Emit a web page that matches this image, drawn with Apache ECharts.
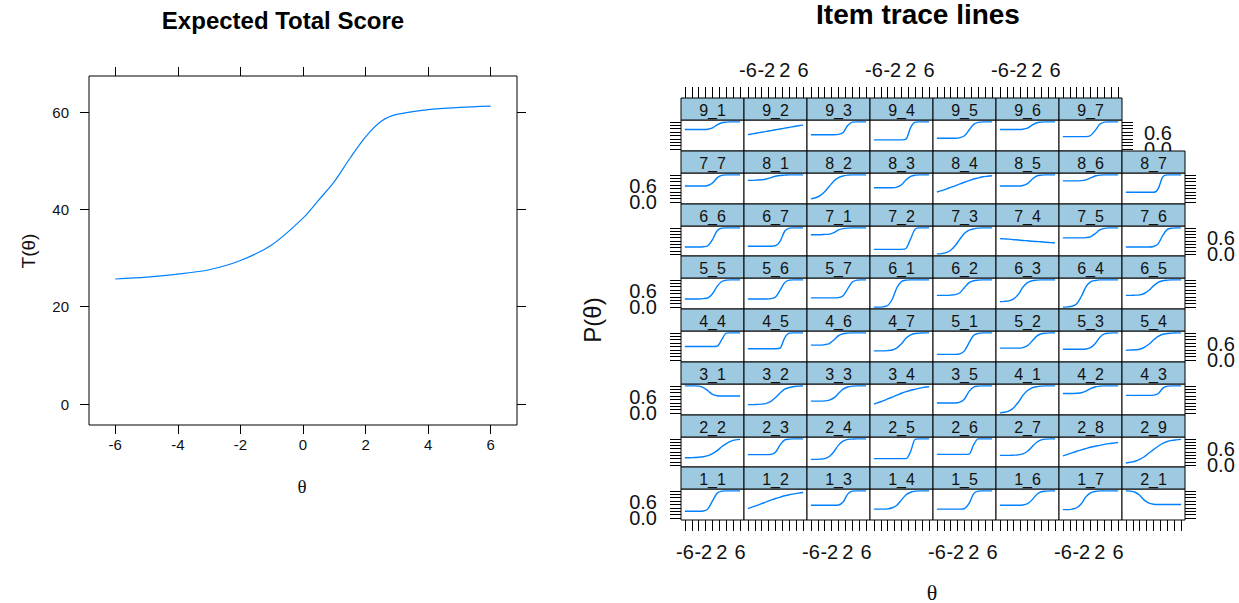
<!DOCTYPE html>
<html><head><meta charset="utf-8">
<script src="https://cdn.jsdelivr.net/npm/echarts@6/dist/echarts.min.js"></script>
<style>html,body{margin:0;padding:0;background:#fff}#c{width:1239px;height:603px}</style>
</head><body><div id="c"></div>
<script>
// ---------- data ----------
const totalTheta = [-6,-5,-4,-3,-2,-1,0,0.5,1,1.5,2,2.5,3,4,5,6];
const totalScore = [25.7,26.1,26.7,27.6,29.5,32.7,38.2,41.9,45.7,50.5,54.9,58.1,59.5,60.5,60.95,61.2];
const theta = [-6,-5,-4,-3,-2,-1,0,1,2,3,4,5,6];
const itemNames = ['1_1','1_2','1_3','1_4','1_5','1_6','1_7','2_1',
  '2_2','2_3','2_4','2_5','2_6','2_7','2_8','2_9',
  '3_1','3_2','3_3','3_4','3_5','4_1','4_2','4_3',
  '4_4','4_5','4_6','4_7','5_1','5_2','5_3','5_4',
  '5_5','5_6','5_7','6_1','6_2','6_3','6_4','6_5',
  '6_6','6_7','7_1','7_2','7_3','7_4','7_5','7_6',
  '7_7','8_1','8_2','8_3','8_4','8_5','8_6','8_7',
  '9_1','9_2','9_3','9_4','9_5','9_6','9_7'];
const p1_1 = [0.25,0.25,0.25,0.25,0.26,0.34,0.63,0.91,0.99,1,1,1,1];
const p1_2 = [0.35,0.41,0.47,0.53,0.60,0.66,0.72,0.77,0.82,0.86,0.89,0.92,0.94];
const p1_3 = [0.47,0.47,0.47,0.47,0.47,0.47,0.48,0.59,0.88,0.99,1,1,1];
const p1_4 = [0.33,0.33,0.33,0.34,0.38,0.47,0.67,0.86,0.95,0.99,1,1,1];
const p1_5 = [0.33,0.33,0.33,0.33,0.33,0.33,0.35,0.54,0.90,0.99,1,1,1];
const p1_6 = [0.47,0.47,0.47,0.47,0.47,0.48,0.53,0.67,0.87,0.97,0.99,1,1];
const p1_7 = [0.31,0.31,0.33,0.38,0.53,0.78,0.93,0.98,1,1,1,1,1];
const p2_1 = [1.0,0.99,0.95,0.84,0.66,0.55,0.51,0.50,0.50,0.50,0.50,0.50,0.50];
const p2_2 = [0.28,0.28,0.29,0.30,0.32,0.36,0.44,0.55,0.70,0.82,0.91,0.96,0.98];
const p2_3 = [0.40,0.40,0.40,0.40,0.40,0.41,0.49,0.77,0.96,0.99,1,1,1];
const p2_4 = [0.22,0.22,0.23,0.25,0.33,0.51,0.76,0.91,0.98,0.99,1,1,1];
const p2_5 = [0.25,0.25,0.25,0.25,0.25,0.25,0.25,0.25,0.53,0.99,1,1,1];
const p2_6 = [0.41,0.41,0.41,0.41,0.41,0.41,0.41,0.42,0.78,1,1,1,1];
const p2_7 = [0.37,0.37,0.37,0.38,0.39,0.43,0.53,0.70,0.87,0.96,0.99,1,1];
const p2_8 = [0.35,0.41,0.47,0.53,0.58,0.63,0.68,0.72,0.75,0.79,0.82,0.84,0.86];
const p2_9 = [0.08,0.11,0.15,0.22,0.32,0.46,0.59,0.72,0.83,0.90,0.94,0.96,0.98];
const p3_1 = [1.0,1.0,1.0,0.99,0.94,0.82,0.69,0.64,0.63,0.63,0.63,0.63,0.63];
const p3_2 = [0.31,0.31,0.32,0.33,0.36,0.43,0.57,0.74,0.88,0.94,0.98,0.99,1];
const p3_3 = [0.44,0.44,0.44,0.45,0.48,0.56,0.72,0.88,0.96,0.99,1,1,1];
const p3_4 = [0.33,0.39,0.45,0.52,0.59,0.66,0.73,0.79,0.84,0.88,0.92,0.95,0.97];
const p3_5 = [0.37,0.37,0.37,0.37,0.37,0.40,0.52,0.80,0.96,0.99,1,1,1];
const p4_1 = [0.01,0.03,0.08,0.20,0.40,0.65,0.83,0.93,0.97,0.99,1,1,1];
const p4_2 = [0.72,0.72,0.72,0.73,0.75,0.81,0.90,0.96,0.99,1,1,1,1];
const p4_3 = [0.65,0.65,0.65,0.65,0.65,0.65,0.66,0.71,0.91,0.99,1,1,1];
const p4_4 = [0.50,0.50,0.50,0.50,0.50,0.50,0.50,0.51,0.75,0.99,1,1,1];
const p4_5 = [0.42,0.42,0.42,0.42,0.42,0.42,0.42,0.44,0.82,0.99,1,1,1];
const p4_6 = [0.55,0.55,0.55,0.57,0.61,0.74,0.90,0.97,0.99,1,1,1,1];
const p4_7 = [0.34,0.34,0.34,0.35,0.37,0.45,0.60,0.81,0.93,0.98,0.99,1,1];
const p5_1 = [0.21,0.21,0.21,0.21,0.21,0.23,0.34,0.64,0.91,0.98,1,1,1];
const p5_2 = [0.44,0.44,0.44,0.44,0.44,0.46,0.53,0.70,0.88,0.97,0.99,1,1];
const p5_3 = [0.40,0.40,0.40,0.40,0.40,0.41,0.46,0.60,0.83,0.96,0.99,1,1];
const p5_4 = [0.36,0.37,0.38,0.40,0.47,0.58,0.74,0.87,0.95,0.98,0.99,1,1];
const p5_5 = [0.30,0.30,0.30,0.30,0.31,0.34,0.49,0.76,0.94,0.99,1,1,1];
const p5_6 = [0.30,0.30,0.30,0.30,0.30,0.31,0.37,0.62,0.90,0.99,1,1,1];
const p5_7 = [0.34,0.34,0.34,0.34,0.34,0.34,0.35,0.42,0.67,0.92,0.99,1,1];
const p6_1 = [0,0,0.01,0.06,0.29,0.71,0.94,0.99,1,1,1,1,1];
const p6_2 = [0.43,0.43,0.43,0.44,0.46,0.53,0.72,0.90,0.97,0.99,1,1,1];
const p6_3 = [0.20,0.21,0.23,0.30,0.47,0.73,0.90,0.97,0.99,1,1,1,1];
const p6_4 = [0,0.01,0.03,0.12,0.39,0.74,0.93,0.98,1,1,1,1,1];
const p6_5 = [0.43,0.43,0.44,0.45,0.50,0.62,0.78,0.91,0.97,0.99,1,1,1];
const p6_6 = [0.27,0.27,0.27,0.27,0.28,0.32,0.55,0.89,0.99,1,1,1,1];
const p6_7 = [0.30,0.30,0.30,0.30,0.30,0.30,0.32,0.49,0.87,0.99,1,1,1];
const p7_1 = [0.74,0.74,0.74,0.75,0.76,0.82,0.92,0.97,0.99,1,1,1,1];
const p7_2 = [0.18,0.18,0.18,0.18,0.18,0.18,0.18,0.22,0.59,0.96,1,1,1];
const p7_3 = [0.01,0.02,0.06,0.15,0.33,0.57,0.79,0.91,0.96,0.99,1,1,1];
const p7_4 = [0.59,0.58,0.57,0.55,0.54,0.52,0.51,0.49,0.48,0.47,0.45,0.44,0.43];
const p7_5 = [0.62,0.62,0.62,0.62,0.62,0.63,0.66,0.78,0.92,0.98,1,1,1];
const p7_6 = [0.27,0.27,0.27,0.27,0.27,0.27,0.29,0.39,0.71,0.94,0.99,1,1];
const p7_7 = [0.59,0.59,0.59,0.59,0.59,0.61,0.70,0.89,0.98,1,1,1,1];
const p8_1 = [0.80,0.80,0.81,0.82,0.85,0.90,0.95,0.98,0.99,1,1,1,1];
const p8_2 = [0.12,0.16,0.24,0.38,0.58,0.78,0.90,0.96,0.99,1,1,1,1];
const p8_3 = [0.53,0.53,0.53,0.53,0.53,0.55,0.64,0.82,0.95,0.99,1,1,1];
const p8_4 = [0.37,0.42,0.48,0.54,0.60,0.67,0.73,0.79,0.85,0.89,0.93,0.95,0.97];
const p8_5 = [0.59,0.59,0.59,0.59,0.59,0.61,0.68,0.84,0.96,0.99,1,1,1];
const p8_6 = [0.78,0.78,0.78,0.78,0.79,0.82,0.89,0.96,0.99,1,1,1,1];
const p8_7 = [0.36,0.36,0.36,0.36,0.36,0.36,0.36,0.49,0.93,1,1,1,1];
const p9_1 = [0.72,0.72,0.72,0.72,0.72,0.73,0.78,0.89,0.97,0.99,1,1,1];
const p9_2 = [0.53,0.56,0.59,0.62,0.65,0.68,0.71,0.74,0.77,0.80,0.83,0.86,0.88];
const p9_3 = [0.53,0.53,0.53,0.53,0.53,0.53,0.54,0.61,0.87,0.99,1,1,1];
const p9_4 = [0.34,0.34,0.34,0.34,0.34,0.34,0.34,0.37,0.80,0.99,1,1,1];
const p9_5 = [0.40,0.40,0.40,0.40,0.40,0.42,0.49,0.70,0.91,0.98,1,1,1];
const p9_6 = [0.72,0.72,0.72,0.72,0.72,0.73,0.77,0.88,0.97,0.99,1,1,1];
const p9_7 = [0.46,0.46,0.46,0.46,0.46,0.46,0.50,0.68,0.91,0.99,1,1,1];
const itemCurves = [p1_1,p1_2,p1_3,p1_4,p1_5,p1_6,p1_7,p2_1,
  p2_2,p2_3,p2_4,p2_5,p2_6,p2_7,p2_8,p2_9,
  p3_1,p3_2,p3_3,p3_4,p3_5,p4_1,p4_2,p4_3,
  p4_4,p4_5,p4_6,p4_7,p5_1,p5_2,p5_3,p5_4,
  p5_5,p5_6,p5_7,p6_1,p6_2,p6_3,p6_4,p6_5,
  p6_6,p6_7,p7_1,p7_2,p7_3,p7_4,p7_5,p7_6,
  p7_7,p8_1,p8_2,p8_3,p8_4,p8_5,p8_6,p8_7,
  p9_1,p9_2,p9_3,p9_4,p9_5,p9_6,p9_7];
const leftXTicks = [-6,-4,-2,0,2,4,6];
const leftYTicks = [0,20,40,60];
const panelXTicks = [-6,-4.5,-3,-1.5,0,1.5,3,4.5,6];
const panelXLabels = [-6,-2,2,6];
const panelYTicks = [0,0.125,0.25,0.375,0.5,0.625,0.75,0.875,1];
const panelYLabels = [0,0.6];

// ---------- layout ----------
const SANS = '"Liberation Sans", Arial, sans-serif';
const SERIF = '"Liberation Serif", "DejaVu Serif", serif';
const INK = '#111';
const LINE = '#0080ff';
const grids = [], xAxes = [], yAxes = [], series = [], graphics = [];

function axisBase(extra){
  return Object.assign({type:'value', splitLine:{show:false},
    axisLine:{show:false, onZero:false}}, extra);
}
function lab(extra){
  return Object.assign({hideOverlap:false, showMinLabel:true, showMaxLabel:true}, extra);
}

// left panel
grids.push({left:89, top:76, width:428, height:349, show:true, borderColor:'#000', borderWidth:1, backgroundColor:'#fff'});
const lTick = {show:true, length:9, customValues:leftXTicks, lineStyle:{color:'#000', width:1}};
xAxes.push(axisBase({gridIndex:0, position:'bottom', min:-6.84, max:6.84,
  axisTick:lTick,
  axisLabel:lab({customValues:leftXTicks, margin:12, fontSize:15, color:INK, fontFamily:SANS})}));
xAxes.push(axisBase({gridIndex:0, position:'top', min:-6.84, max:6.84,
  axisTick:lTick, axisLabel:{show:false}}));
const lyTick = {show:true, length:9, customValues:leftYTicks, lineStyle:{color:'#000', width:1}};
yAxes.push(axisBase({gridIndex:0, position:'left', min:-4.3, max:67.4,
  axisTick:lyTick,
  axisLabel:lab({customValues:leftYTicks, margin:20, fontSize:15, color:INK, fontFamily:SANS})}));
yAxes.push(axisBase({gridIndex:0, position:'right', min:-4.3, max:67.4,
  axisTick:lyTick, axisLabel:{show:false}}));
series.push({type:'line', xAxisIndex:0, yAxisIndex:0, showSymbol:false, smooth:0.3,
  lineStyle:{color:LINE, width:1.2}, data: totalTheta.map((t,i)=>[t,totalScore[i]])});

// right panel grid of items
const PX0 = 681, PW = 63, TOP0 = 98, RH = 52.75, SH = 22;
const pxTick = {show:true, length:11, customValues:panelXTicks, lineStyle:{color:'#000', width:1}};
const pyTick = {show:true, length:11, customValues:panelYTicks, lineStyle:{color:'#000', width:1}};
const pLabel = {fontSize:20, color:INK, fontFamily:SANS};
const pyLabel = {fontSize:20, lineHeight:14, color:INK, fontFamily:SANS};
const fmt1 = v => Number(v).toFixed(1);
// a y-axis side: ticks on one axis, each label on its own overlaid axis
function ySide(gi, pos, withLabels, margin){
  const idx = yAxes.length;
  yAxes.push(axisBase({gridIndex:gi, position:pos, min:-0.07, max:1.07,
    axisTick:pyTick,
    axisLabel:lab(Object.assign({show:withLabels, customValues:[panelYLabels[0]], margin:margin, formatter:fmt1}, pyLabel))}));
  if (withLabels) {
    yAxes.push(axisBase({gridIndex:gi, position:pos, min:-0.07, max:1.07,
      axisTick:{show:false},
      axisLabel:lab(Object.assign({customValues:[panelYLabels[1]], margin:margin, formatter:fmt1}, pyLabel))}));
  }
  return idx;
}
itemNames.forEach((name, i) => {
  const rb = Math.floor(i / 8), col = i % 8;
  const r = 7 - rb;
  const nInRow = r === 0 ? 7 : 8;
  const x = PX0 + col * PW;
  const st = Math.round(TOP0 + r * RH);
  const sb = Math.round(TOP0 + (r + 1) * RH);
  const pt = st + SH;
  const gi = grids.length;
  grids.push({left:x, top:pt, width:PW, height:sb - pt, show:true, borderColor:'#000', borderWidth:1, backgroundColor:'#fff'});
  const isBottom = r === 7, isTop = r === 0, isLeft = col === 0, isRight = col === nInRow - 1;
  const xi = xAxes.length;
  xAxes.push(axisBase({gridIndex:gi, position:'bottom', min:-6.84, max:6.84, show:isBottom,
    axisTick:pxTick,
    axisLabel:lab(Object.assign({show:isBottom && col % 2 === 0, customValues:panelXLabels, margin:22}, pLabel))}));
  if (isTop) {
    xAxes.push(axisBase({gridIndex:gi, position:'top', offset:SH, min:-6.84, max:6.84,
      axisTick:pxTick,
      axisLabel:lab(Object.assign({show:col % 2 === 1, customValues:panelXLabels, margin:18}, pLabel))}));
  }
  let yi;
  if (isLeft) {
    yi = ySide(gi, 'left', r % 2 === 1, 24);
  } else {
    yi = yAxes.length;
    yAxes.push(axisBase({gridIndex:gi, position:'left', min:-0.07, max:1.07, show:false}));
  }
  if (isRight) ySide(gi, 'right', r % 2 === 0, 22);
  series.push({type:'line', xAxisIndex:xi, yAxisIndex:yi, showSymbol:false, smooth:0.3,
    lineStyle:{color:LINE, width:1.4}, data: theta.map((t,j)=>[t, itemCurves[i][j]])});
  graphics.push({type:'rect', shape:{x:x, y:st, width:PW, height:SH},
    style:{fill:'#9ECAE1', stroke:'#000', lineWidth:1}, z:10});
  graphics.push({type:'text', x:x + PW/2, y:st + SH/2 + 1, z:11,
    style:{text:name, fontSize:16, lineHeight:14, fontFamily:SANS, fill:INK, textAlign:'center', textVerticalAlign:'middle', align:'center', verticalAlign:'middle'}});
});

function label(text, x, y, size, opts){
  return Object.assign({type:'text', x:x, y:y, z:20,
    style:Object.assign({text:text, fontSize:size, fontFamily:SANS, fill:INK,
      textAlign:'center', textVerticalAlign:'middle', align:'center', verticalAlign:'middle'}, (opts && opts.style) || {})},
    opts && opts.el || {});
}
graphics.push(label('Expected Total Score', 283, 20, 24, {style:{fontWeight:'bold', fill:'#000'}}));
graphics.push(label('Item trace lines', 918, 14, 28, {style:{fontWeight:'bold', fill:'#000'}}));
graphics.push(label('θ', 302, 486, 19, {style:{fontFamily:SERIF}}));
graphics.push(label('T(θ)', 28, 251, 19, {el:{rotation:Math.PI/2}}));
graphics.push(label('θ', 932, 592, 22, {style:{fontFamily:SERIF}}));
graphics.push(label('P(θ)', 592, 320, 24, {el:{rotation:Math.PI/2}}));

const chart = echarts.init(document.getElementById('c'), null, {renderer:'svg', width:1239, height:603});
chart.setOption({
  animation:false,
  backgroundColor:'#fff',
  grid:grids, xAxis:xAxes, yAxis:yAxes, series:series,
  graphic:{elements:graphics}
});
</script>
</body></html>
